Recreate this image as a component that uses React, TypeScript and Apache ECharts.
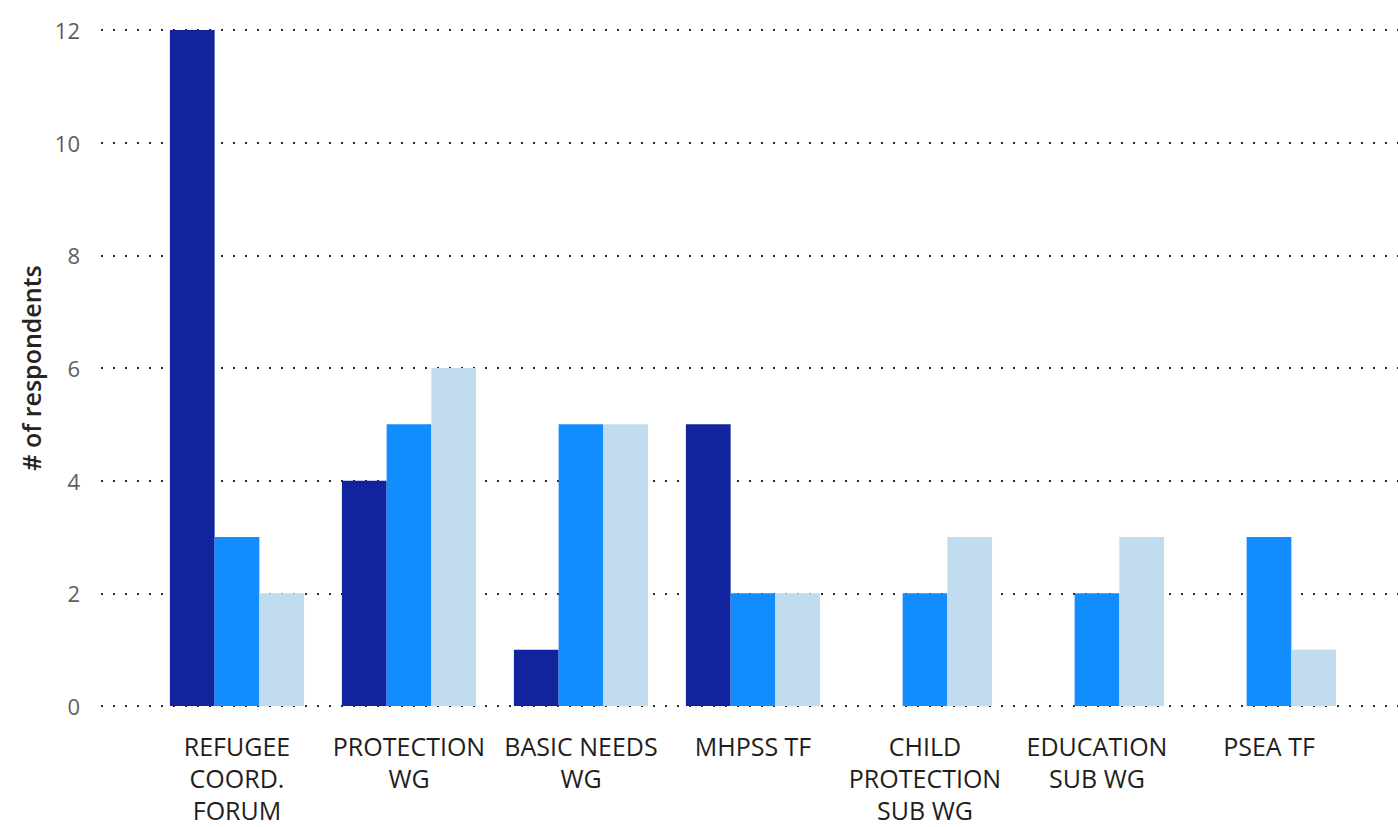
import React, { useEffect, useRef } from "react";
import * as echarts from "echarts";

// Working groups surveyed
const categories = [
  "REFUGEE\nCOORD.\nFORUM",
  "PROTECTION\nWG",
  "BASIC NEEDS\nWG",
  "MHPSS TF",
  "CHILD\nPROTECTION\nSUB WG",
  "EDUCATION\nSUB WG",
  "PSEA TF",
];

// Respondent counts per group, one array per response bucket
const seriesNames = ["Bucket 1", "Bucket 2", "Bucket 3"];
const bucket1 = [12, 4, 1, 5, 0, 0, 0];
const bucket2 = [3, 5, 5, 2, 2, 2, 3];
const bucket3 = [2, 6, 5, 2, 3, 3, 1];

const seriesColors = ["#12239E", "#118DFF", "#C0DCEE"];

const yMin = 0;
const yMax = 12;
const yInterval = 2;

const FONT = "'Open Sans', 'Noto Sans', sans-serif";

export default function App() {
  const ref = useRef<HTMLDivElement>(null);

  useEffect(() => {
    if (!ref.current) return;
    const chart = echarts.init(ref.current, undefined, { renderer: "svg" });
    const dotted = { color: "#2a2a2a", width: 2, type: [2, 10] as number[] };

    chart.setOption({
      animation: false,
      backgroundColor: "#ffffff",
      grid: [
        // full-width frame carrying the value axis and the dotted guides
        { left: 101, right: 0, top: 30, bottom: 121, outerBoundsMode: "none" },
        // inner band where the grouped bars sit
        { left: 151, right: 43, top: 30, bottom: 121, outerBoundsMode: "none" },
      ],
      xAxis: [
        { type: "value", gridIndex: 0, show: false, min: 0, max: 1 },
        {
          type: "category",
          gridIndex: 1,
          data: categories,
          axisLine: { show: false },
          axisTick: { show: false },
          axisLabel: {
            interval: 0,
            margin: 24,
            fontFamily: FONT,
            fontSize: 25,
            lineHeight: 32,
            color: "#1f1e1d",
            align: "center",
            verticalAlign: "top",
          },
        },
      ],
      yAxis: [
        {
          type: "value",
          gridIndex: 0,
          min: yMin,
          max: yMax,
          interval: yInterval,
          name: "# of respondents",
          nameLocation: "middle",
          nameGap: 56,
          nameTextStyle: {
            fontFamily: FONT,
            fontSize: 25,
            fontWeight: 600,
            color: "#252423",
          },
          axisLine: { show: false },
          axisTick: { show: false },
          axisLabel: {
            margin: 21,
            fontFamily: FONT,
            fontSize: 22,
            color: "#605E5C",
          },
          splitLine: { show: true, lineStyle: dotted },
        },
        {
          type: "value",
          gridIndex: 1,
          min: yMin,
          max: yMax,
          interval: yInterval,
          show: false,
          splitLine: { show: false },
        },
      ],
      series: [bucket1, bucket2, bucket3].map((values, i) => ({
        name: seriesNames[i],
        type: "bar",
        xAxisIndex: 1,
        yAxisIndex: 1,
        data: values,
        barGap: "0%",
        barCategoryGap: "22%",
        itemStyle: { color: seriesColors[i] },
      })),
    });

    return () => chart.dispose();
  }, []);

  return (
    <div
      ref={ref}
      style={{ position: "fixed", left: 0, top: 0, width: 1398, height: 827 }}
    />
  );
}
